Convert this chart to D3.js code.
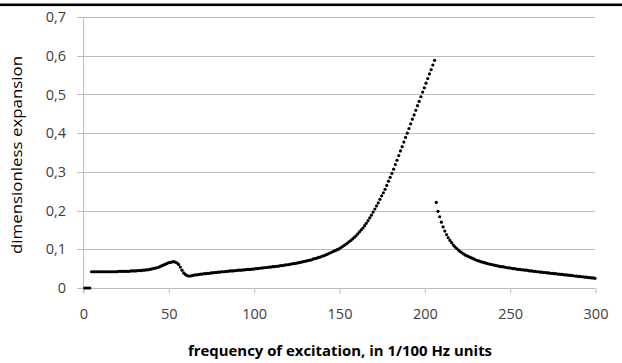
<!DOCTYPE html>
<html><head><meta charset="utf-8">
<script src="https://cdn.jsdelivr.net/npm/d3@7"></script>
<style>html,body{margin:0;padding:0;background:#fff;}svg{display:block;}</style>
</head><body>
<svg id="chart" width="622" height="363"></svg>
<script>
// Data
const frequencies = d3.range(1, 301); // 1 .. 300 (1/100 Hz units)
const expansion = [
  0,0,0,0,0.042,0.042,0.042,0.042,0.042,0.042,
  0.042,0.042,0.042,0.042,0.042,0.042,0.042,0.042,0.042,0.042,
  0.043,0.043,0.043,0.043,0.043,0.043,0.043,0.044,0.044,0.044,
  0.044,0.045,0.045,0.045,0.046,0.046,0.047,0.047,0.048,0.049,
  0.050,0.051,0.052,0.053,0.055,0.057,0.059,0.061,0.063,0.065,
  0.066,0.067,0.068,0.067,0.065,0.061,0.054,0.046,0.039,0.035,
  0.032,0.031,0.031,0.032,0.033,0.034,0.034,0.035,0.036,0.036,
  0.037,0.037,0.038,0.038,0.039,0.039,0.040,0.040,0.041,0.041,
  0.042,0.042,0.042,0.043,0.043,0.044,0.044,0.044,0.045,0.045,
  0.046,0.046,0.046,0.047,0.047,0.048,0.048,0.048,0.049,0.049,
  0.050,0.050,0.051,0.051,0.052,0.052,0.053,0.053,0.054,0.054,
  0.055,0.055,0.056,0.056,0.057,0.058,0.058,0.059,0.060,0.060,
  0.061,0.062,0.063,0.063,0.064,0.065,0.066,0.067,0.068,0.069,
  0.070,0.071,0.072,0.073,0.075,0.076,0.077,0.079,0.080,0.082,
  0.083,0.085,0.087,0.089,0.091,0.093,0.095,0.097,0.099,0.101,
  0.104,0.107,0.110,0.113,0.116,0.120,0.123,0.127,0.131,0.135,
  0.140,0.145,0.150,0.155,0.161,0.167,0.174,0.181,0.188,0.196,
  0.204,0.212,0.220,0.229,0.238,0.246,0.255,0.265,0.276,0.286,
  0.296,0.307,0.319,0.330,0.342,0.354,0.365,0.377,0.389,0.400,
  0.412,0.424,0.436,0.447,0.459,0.471,0.482,0.494,0.506,0.517,
  0.529,0.541,0.553,0.564,0.576,0.588,0.221,0.198,0.184,0.170,
  0.158,0.147,0.138,0.130,0.123,0.117,0.111,0.106,0.102,0.098,
  0.094,0.091,0.088,0.085,0.083,0.081,0.079,0.077,0.075,0.073,
  0.071,0.070,0.068,0.067,0.066,0.064,0.063,0.062,0.061,0.060,
  0.059,0.058,0.057,0.056,0.055,0.055,0.054,0.053,0.052,0.052,
  0.051,0.050,0.050,0.049,0.048,0.048,0.047,0.047,0.046,0.046,
  0.045,0.044,0.044,0.043,0.043,0.042,0.042,0.041,0.041,0.040,
  0.040,0.039,0.039,0.038,0.038,0.037,0.037,0.036,0.036,0.035,
  0.035,0.034,0.034,0.033,0.033,0.032,0.032,0.031,0.031,0.030,
  0.030,0.029,0.029,0.028,0.028,0.027,0.027,0.026,0.026,0.025
];
const xTicks = [0, 50, 100, 150, 200, 250, 300];
const yTicks = [0, 0.1, 0.2, 0.3, 0.4, 0.5, 0.6, 0.7];
const xTitle = "frequency of excitation, in 1/100 Hz units";
const yTitle = "dimensionless expansion";

const svg = d3.select("#chart");
const x = d3.scaleLinear().domain([0, 300]).range([83, 595]);
const y = d3.scaleLinear().domain([0, 0.7]).range([288, 17]);
const fmt = v => d3.format(".1f")(v).replace(".", ",").replace(/^0,0$/, "0");
const gridColor = "#bdbdbd";
const labelFont = "'Open Sans', sans-serif";

// top rule
svg.append("rect").attr("x", 0).attr("y", 3.5).attr("width", 622).attr("height", 2.6).attr("fill", "#000");

// horizontal gridlines (with left tick extensions)
svg.append("g").selectAll("line").data(yTicks).join("line")
  .attr("x1", 77).attr("x2", x(300))
  .attr("y1", d => Math.round(y(d)) + 0.5).attr("y2", d => Math.round(y(d)) + 0.5)
  .attr("stroke", gridColor).attr("stroke-width", 1);

// y axis line
svg.append("line").attr("x1", x(0) + 0.5).attr("x2", x(0) + 0.5)
  .attr("y1", y(0.7)).attr("y2", y(0) + 5)
  .attr("stroke", gridColor);

// x axis
const xAxis = d3.axisBottom(x).tickValues(xTicks).tickSize(5).tickPadding(15).tickFormat(d3.format("d"));
const gx = svg.append("g").attr("transform", `translate(0.5,${Math.round(y(0)) + 0.5})`).call(xAxis);
gx.select(".domain").attr("stroke", gridColor).attr("d", `M${x(0)},0H${x(300)}`);
gx.selectAll(".tick line").attr("stroke", gridColor);
gx.selectAll(".tick text").attr("fill", "#404040").attr("font-family", labelFont).attr("font-size", "14.5px");

// y tick labels
svg.append("g").selectAll("text").data(yTicks).join("text")
  .attr("x", 66).attr("y", d => y(d)).attr("dy", "0.35em")
  .attr("text-anchor", "end").attr("fill", "#404040")
  .attr("font-family", labelFont).attr("font-size", "14.5px")
  .text(fmt);

// points
svg.append("g").selectAll("circle").data(frequencies).join("circle")
  .attr("cx", (d) => x(d)).attr("cy", (d, i) => y(expansion[i]))
  .attr("r", 1.6).attr("fill", "#000");

// axis titles
svg.append("text").attr("x", 340).attr("y", 356).attr("text-anchor", "middle")
  .attr("font-family", labelFont).attr("font-weight", "bold").attr("font-size", "14px")
  .attr("fill", "#000").attr("textLength", 304).attr("lengthAdjust", "spacingAndGlyphs")
  .text(xTitle);
svg.append("text").attr("transform", "translate(22,155) rotate(-90)").attr("text-anchor", "middle")
  .attr("font-family", labelFont).attr("font-size", "14px")
  .attr("fill", "#000").attr("textLength", 198).attr("lengthAdjust", "spacingAndGlyphs")
  .text(yTitle);
</script>
</body></html>
